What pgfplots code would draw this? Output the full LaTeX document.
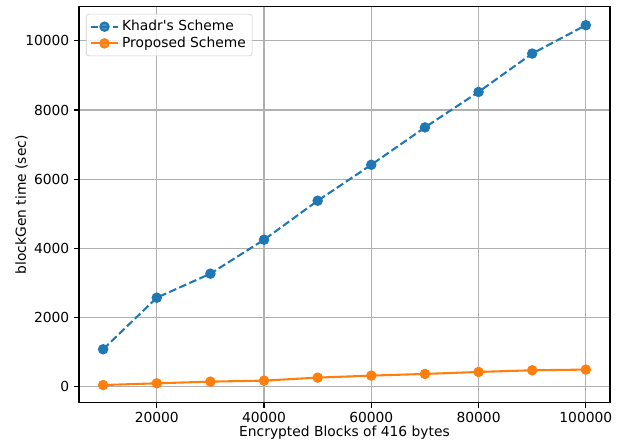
\documentclass[border=0pt]{standalone}
\usepackage{fontspec}
\setmainfont{DejaVu Sans}
\usepackage{pgfplots}
\pgfplotsset{compat=1.18}
\definecolor{mplblue}{HTML}{1F77B4}
\definecolor{mplorange}{HTML}{FF7F0E}
\definecolor{mplgrid}{HTML}{B0B0B0}
\definecolor{legframe}{HTML}{CCCCCC}
\begin{document}
\begin{tikzpicture}
\begin{axis}[
  scale only axis,
  width=382.3bp, height=285.1bp,
  xmin=5500, xmax=104500,
  ymin=-470, ymax=10980,
  xtick={20000,40000,60000,80000,100000},
  ytick={0,2000,4000,6000,8000,10000},
  scaled ticks=false,
  /pgf/number format/fixed,
  /pgf/number format/precision=0,
  /pgf/number format/1000 sep={},
  /pgf/number format/assume math mode=true,
  tick label style={font=\fontsize{10}{12}\selectfont},
  label style={font=\fontsize{10}{12}\selectfont},
  xlabel={Encrypted Blocks of 416 bytes},
  ylabel={blockGen time (sec)},
  xlabel style={yshift=4.5bp},
  ylabel style={yshift=-8.5bp},
  grid=major,
  major grid style={color=mplgrid, line width=0.8pt},
  axis line style={line width=0.8pt},
  tick style={black, line width=0.8pt},
  tick align=outside,
  major tick length=3.5pt,
  xtick pos=bottom, ytick pos=left,
  legend style={at={(rel axis cs:0,1)}, anchor=north west, xshift=5bp, yshift=-5bp,
    draw=legframe, fill=white, fill opacity=0.8, text opacity=1, rounded corners=2pt,
    font=\fontsize{10}{12}\selectfont, row sep=-1pt, inner sep=2.5pt},
  legend cell align=left,
  legend image code/.code={
    \draw[#1, mark indices={2}] plot coordinates {(0cm,0cm) (0.35cm,0cm) (0.7cm,0cm)};
  },
]
\coordinate (ll) at (rel axis cs:0,0);
\coordinate (ur) at (rel axis cs:1,1);
\addplot[color=mplblue, line width=1.5pt, dash pattern=on 5.55pt off 2.4pt,
  mark=*, mark size=3pt, mark options={solid, draw=mplblue, fill=mplblue}]
  coordinates {
  (10000,1081) (20000,2572) (30000,3266) (40000,4249) (50000,5376)
  (60000,6416) (70000,7496) (80000,8522) (90000,9632) (100000,10452)
  };
\addlegendentry{Khadr\textquotesingle s Scheme}
\addplot[color=mplorange, line width=1.5pt,
  mark=*, mark size=3pt, mark options={solid, draw=mplorange, fill=mplorange}]
  coordinates {
  (10000,46) (20000,96) (30000,145) (40000,174) (50000,261)
  (60000,319) (70000,367) (80000,425) (90000,473) (100000,493)
  };
\addlegendentry{Proposed Scheme}
\end{axis}
\pgfresetboundingbox
\path ([xshift=-56.9bp, yshift=-29.5bp]ll) rectangle ([xshift=5.8bp, yshift=5bp]ur);
\end{tikzpicture}
\end{document}
